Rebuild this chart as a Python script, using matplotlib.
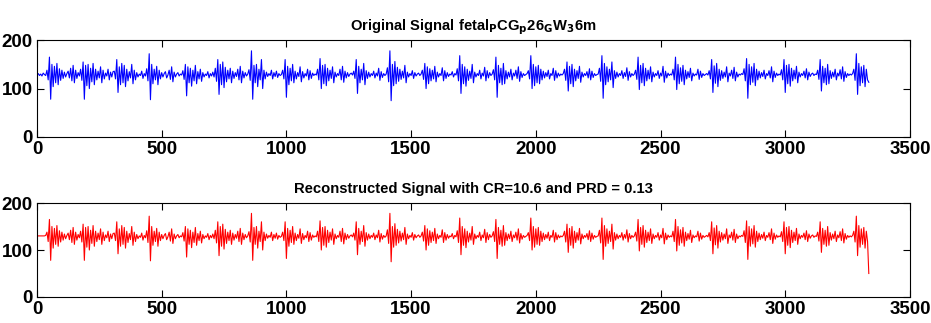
"""
Original vs reconstructed fetal PCG signal (two stacked panels, MATLAB-like look).
"""
import numpy as np
import matplotlib
matplotlib.use('Agg')
import matplotlib.pyplot as plt

# signal values, one point every 5 samples
step = 5
lead_in = [128, 131, 127, 130, 126, 132, 129, 127]
original_signal = lead_in + [
    138, 118, 165, 78, 150, 104, 146, 112, 152, 108, 141, 117, 138, 121, 134, 124, 131, 136, 122, 142, 116, 148, 112, 138, 121, 133, 126,
    140, 117, 155, 78, 148, 106, 150, 100, 142, 114, 152, 108, 140, 118, 136, 122, 145, 112, 138, 120, 132, 126, 140, 118, 134, 124, 135,
    136, 120, 160, 92, 145, 108, 152, 112, 148, 104, 140, 116, 135, 122, 150, 110, 138, 118, 133, 124, 130, 127, 136, 121, 131, 126,
    141, 116, 172, 77, 150, 110, 140, 118, 146, 108, 138, 120, 133, 124, 131, 135, 122, 128, 138, 119, 145, 114, 134, 124, 130, 133, 126, 130, 128,
    137, 119, 150, 85, 145, 112, 142, 105, 138, 116, 148, 110, 135, 120, 140, 115, 133, 124, 130, 127, 135, 122, 131, 126, 134, 124,
    142, 115, 160, 88, 150, 108, 155, 102, 144, 114, 138, 120, 142, 112, 136, 121, 133, 125, 140, 118, 146, 112, 136, 122, 133, 126, 130,
    139, 117, 178, 78, 148, 112, 150, 104, 140, 118, 160, 100, 138, 120, 134, 125, 131, 127, 138, 120, 133, 125, 136, 123, 131, 127, 129,
    138, 120, 160, 82, 146, 108, 142, 116, 150, 112, 136, 120, 133, 125, 145, 114, 135, 122, 131, 126, 140, 118, 137, 121, 132, 127, 130, 128,
    140, 118, 162, 100, 148, 110, 150, 106, 142, 116, 138, 121, 145, 112, 134, 124, 131, 127, 140, 118, 146, 113, 136, 122, 133, 125, 130, 132, 128,
    136, 121, 160, 90, 146, 112, 140, 118, 152, 108, 137, 121, 134, 124, 131, 127, 136, 122, 132, 126, 142, 117, 135, 123, 131, 127, 130,
    143, 114, 178, 75, 150, 106, 156, 110, 144, 115, 140, 119, 136, 122, 148, 112, 134, 124, 131, 127, 137, 121, 133, 126, 130, 132, 127, 130,
    138, 119, 152, 100, 145, 110, 141, 116, 138, 120, 146, 114, 134, 124, 131, 127, 143, 116, 137, 121, 133, 125, 130, 128, 135, 124, 131, 128,
    141, 116, 168, 90, 150, 110, 145, 105, 140, 117, 136, 121, 150, 112, 134, 124, 131, 127, 138, 120, 132, 126, 144, 116, 137, 122, 133, 127, 130,
    139, 118, 165, 82, 148, 112, 142, 108, 152, 110, 137, 120, 134, 124, 140, 118, 132, 126, 138, 121, 145, 115, 135, 123, 131, 127, 129, 131,
    137, 120, 168, 100, 150, 106, 145, 112, 148, 110, 140, 118, 136, 122, 133, 125, 138, 120, 131, 127, 142, 117, 137, 122, 132, 126, 130, 128, 131,
    140, 117, 155, 95, 146, 110, 150, 104, 140, 116, 137, 121, 146, 113, 134, 124, 131, 127, 135, 122, 141, 118, 136, 123, 131, 127, 129, 130,
    142, 115, 168, 80, 152, 108, 145, 114, 140, 118, 155, 102, 137, 121, 134, 124, 131, 127, 137, 121, 133, 125, 143, 117, 135, 124, 131, 127, 130,
    138, 119, 165, 98, 148, 112, 152, 106, 142, 116, 138, 120, 145, 114, 134, 124, 131, 127, 137, 121, 132, 126, 146, 113, 136, 122, 132, 127, 130, 128,
    140, 118, 165, 98, 150, 110, 143, 115, 148, 108, 138, 120, 135, 123, 142, 116, 132, 126, 130, 128, 140, 119, 136, 123, 131, 127, 129, 131, 128,
    137, 120, 160, 92, 147, 111, 152, 104, 140, 117, 137, 121, 134, 124, 145, 114, 132, 126, 138, 121, 144, 116, 134, 124, 130, 128, 131, 129,
    141, 116, 162, 80, 150, 108, 145, 113, 152, 106, 140, 118, 136, 122, 133, 125, 138, 120, 131, 127, 137, 122, 145, 114, 136, 123, 132, 127, 130, 128,
    139, 118, 160, 92, 148, 110, 150, 105, 142, 116, 138, 120, 146, 112, 134, 124, 131, 127, 136, 122, 141, 118, 134, 125, 130, 132, 127, 130, 129,
    138, 119, 160, 95, 146, 112, 142, 108, 150, 110, 137, 121, 134, 124, 140, 118, 132, 126, 139, 120, 145, 115, 135, 123, 131, 127, 130, 128, 131,
    140, 117, 172, 88, 152, 106, 145, 112, 148, 104, 140, 118, 113,
]

# reconstruction: flat start, same body, sharp drop on the last sample
recon_lead_in = [130, 130, 130, 130, 130, 130, 130, 131]
recon_last = 50
recon_signal = recon_lead_in + original_signal[len(lead_in):-1] + [recon_last]

x_orig = np.arange(len(original_signal)) * step
x_recon = np.arange(len(recon_signal)) * step

plt.rcParams['font.family'] = ['Liberation Sans Narrow', 'Liberation Sans', 'DejaVu Sans']
plt.rcParams['font.weight'] = 'bold'
plt.rcParams['mathtext.default'] = 'bf'

fig = plt.figure(figsize=(9.31, 3.23), dpi=100)
ax1 = fig.add_axes([0.0397, 0.5759, 0.9377, 0.2997])
ax2 = fig.add_axes([0.0397, 0.0805, 0.9377, 0.2910])

panels = [
    (ax1, x_orig, original_signal, '#0000ff', r'Original Signal fetal$_P$CG$_p$26$_G$W$_3$6m'),
    (ax2, x_recon, recon_signal, '#ff0000', 'Reconstructed Signal with CR=10.6 and PRD = 0.13'),
]
for ax, xs, ys, col, title in panels:
    ax.plot(xs, ys, color=col, lw=0.8)
    ax.set_xlim(0, 3500)
    ax.set_ylim(0, 200)
    ax.set_xticks(np.arange(0, 3501, 500))
    ax.set_yticks([0, 100, 200])
    ax.tick_params(direction='in', top=True, right=True, length=5, width=0.8,
                   labelsize=13.5, pad=3)
    for lab in ax.get_xticklabels() + ax.get_yticklabels():
        lab.set_fontweight('bold')
    for sp in ax.spines.values():
        sp.set_linewidth(0.8)
    ax.set_title(title, fontsize=10.6, fontweight='bold', pad=7)

fig.savefig('out.png', dpi=100)
